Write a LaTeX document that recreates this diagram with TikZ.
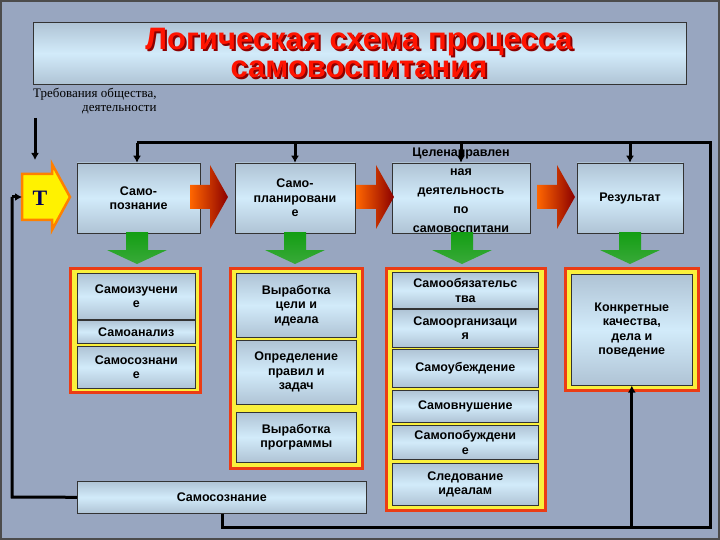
\documentclass[tikz,border=0pt]{standalone}
\usepackage{fontspec}
\setmainfont{Liberation Sans}
\newfontfamily\serifff{Liberation Serif}
\usetikzlibrary{arrows.meta}
\definecolor{bg}{RGB}{152,166,192}
\definecolor{bxtop}{RGB}{140,155,175}
\definecolor{bxmid}{RGB}{210,235,250}
\definecolor{frred}{RGB}{235,60,20}
\definecolor{fryel}{RGB}{250,240,60}
\pgfdeclareverticalshading{boxsh}{100bp}{color(0bp)=(bxtop); color(50bp)=(bxmid); color(100bp)=(bxtop)}
\pgfdeclareverticalshading{grnsh}{100bp}{color(0bp)=(green!55!black!70); color(100bp)=(green!60!black)}
\tikzset{
 bx/.style={draw=black!80,line width=0.6pt,shading=boxsh,
   align=center,font=\bfseries\fontsize{12.5}{14.5}\selectfont,inner sep=1pt},
 frame/.style={draw=frred,line width=3pt,fill=fryel},
 ln/.style={line width=3pt,black},
 arr/.style={ln,-{Latex[length=7pt,width=8pt]}}
}
\newcommand{\redarrow}[2]{\shade[left color=orange!80!red,right color=red!55!black] (#1-18,#2-12) -- (#1+2,#2-12) -- (#1+2,#2-32) -- (#1+20,#2) -- (#1+2,#2+32) -- (#1+2,#2+12) -- (#1-18,#2+12) -- cycle;}
\newcommand{\grnarrow}[1]{\shade[shading=grnsh] (#1-11,232) -- (#1+11,232) -- (#1+11,250) -- (#1+30,250) -- (#1,264) -- (#1-30,250) -- (#1-11,250) -- cycle;}
\begin{document}
\begin{tikzpicture}[x=1pt,y=-1pt]
\fill[bg] (0,0) rectangle (720,540);
\draw[black!70,line width=2pt] (1,1) rectangle (719,539);
% title
\node[bx,minimum width=653pt,minimum height=62pt,anchor=north west] (title) at (33,22) {};
\node[text=red!55!black,font=\bfseries\fontsize{31}{28}\selectfont,align=center] (ttlsh) at (361,55) {Логическая схема процесса\\самовоспитания};
\node[text=red!85!orange,font=\bfseries\fontsize{31}{28}\selectfont,align=center] (ttl) at (359,53) {Логическая схема процесса\\самовоспитания};
\node[font=\serifff\fontsize{13}{14}\selectfont,align=right,anchor=north west,inner sep=0pt] (req) at (33,88) {Требования общества,\\деятельности};
\coordinate (reqa) at (35,118);
\coordinate (reqb) at (35,160);
\draw[arr] (reqa) -- (reqb);
% T
\draw[orange,line width=2.5pt,fill=yellow] (22,174) -- (52,174) -- (52,164) -- (70,197) -- (52,230) -- (52,220) -- (22,220) -- cycle;
\node[font=\serifff\bfseries\fontsize{22}{22}\selectfont,text=blue!35!black] (T) at (40,198) {T};
\coordinate (tw) at (22,197);
% top boxes
\node[bx,minimum width=123pt,minimum height=70pt] (b1) at (138.5,198) {Само-\\познание};
\node[bx,minimum width=120pt,minimum height=70pt] (b2) at (295,198) {Само-\\планировани\\е};
\node[bx,minimum width=138pt,minimum height=70pt] (b3) at (461,198) {};
\node[font=\bfseries\fontsize{12.5}{19}\selectfont,align=center] (b3t) at (461,190) {Целенаправлен\\ная\\деятельность\\по\\самовоспитани};
\node[bx,minimum width=106pt,minimum height=70pt] (b4) at (630,198) {Результат};
\redarrow{208}{197}
\redarrow{374}{197}
\redarrow{555}{197}
\grnarrow{137}\grnarrow{295}\grnarrow{462}\grnarrow{630}
% frames
\draw[frame] (70,268) rectangle (200,392);
\draw[frame] (230,268) rectangle (362,468);
\draw[frame] (386,268) rectangle (545,510);
\draw[frame] (565,268) rectangle (698,390);
\node[bx,minimum width=118pt,minimum height=46pt,anchor=north west] (c11) at (77,273) {Самоизучени\\е};
\node[bx,minimum width=118pt,minimum height=23pt,anchor=north west] (c12) at (77,320) {Самоанализ};
\node[bx,minimum width=118pt,minimum height=42pt,anchor=north west] (c13) at (77,346) {Самосознани\\е};
\node[bx,minimum width=120pt,minimum height=64pt,anchor=north west] (c21) at (236,273) {Выработка\\цели и\\идеала};
\node[bx,minimum width=120pt,minimum height=64pt,anchor=north west] (c22) at (236,340) {Определение\\правил и\\задач};
\node[bx,minimum width=120pt,minimum height=50pt,anchor=north west] (c23) at (236,412) {Выработка\\программы};
\node[bx,minimum width=146pt,minimum height=36pt,anchor=north west] (c31) at (392,272) {Самообязательс\\тва};
\node[bx,minimum width=146pt,minimum height=38pt,anchor=north west] (c32) at (392,309) {Самоорганизаци\\я};
\node[bx,minimum width=146pt,minimum height=38pt,anchor=north west] (c33) at (392,349) {Самоубеждение};
\node[bx,minimum width=146pt,minimum height=32pt,anchor=north west] (c34) at (392,390) {Самовнушение};
\node[bx,minimum width=146pt,minimum height=34pt,anchor=north west] (c35) at (392,425) {Самопобуждени\\е};
\node[bx,minimum width=146pt,minimum height=42pt,anchor=north west] (c36) at (392,463) {Следование\\идеалам};
\node[bx,minimum width=121pt,minimum height=111pt,anchor=north west] (c41) at (571,274) {Конкретные\\качества,\\дела и\\поведение};
\node[bx,minimum width=289pt,minimum height=32pt,anchor=north west] (ss) at (77,481) {Самосознание};
% loops
\coordinate (tl) at (137,143); \coordinate (tr) at (710,143);
\coordinate (br) at (710,527); \coordinate (bm) at (222,527);
\coordinate (lb) at (12,497); \coordinate (lt) at (12,197);
\draw[ln] (ss.south -| bm) -- (bm) -- (br) -- (tr) -- (tl);
\draw[arr] (tl) -- (b1.north -| tl);
\draw[arr] (b2.north |- tl) -- (b2.north);
\draw[arr] (b3.north |- tl) -- (b3.north);
\draw[arr] (b4.north |- tl) -- (b4.north);
\draw[arr] (c41.south |- br) -- (c41.south);
\draw[ln] (ss.west) -- (lb) -- (lt);
\draw[arr] (lt) -- (tw);
\end{tikzpicture}
\end{document}
